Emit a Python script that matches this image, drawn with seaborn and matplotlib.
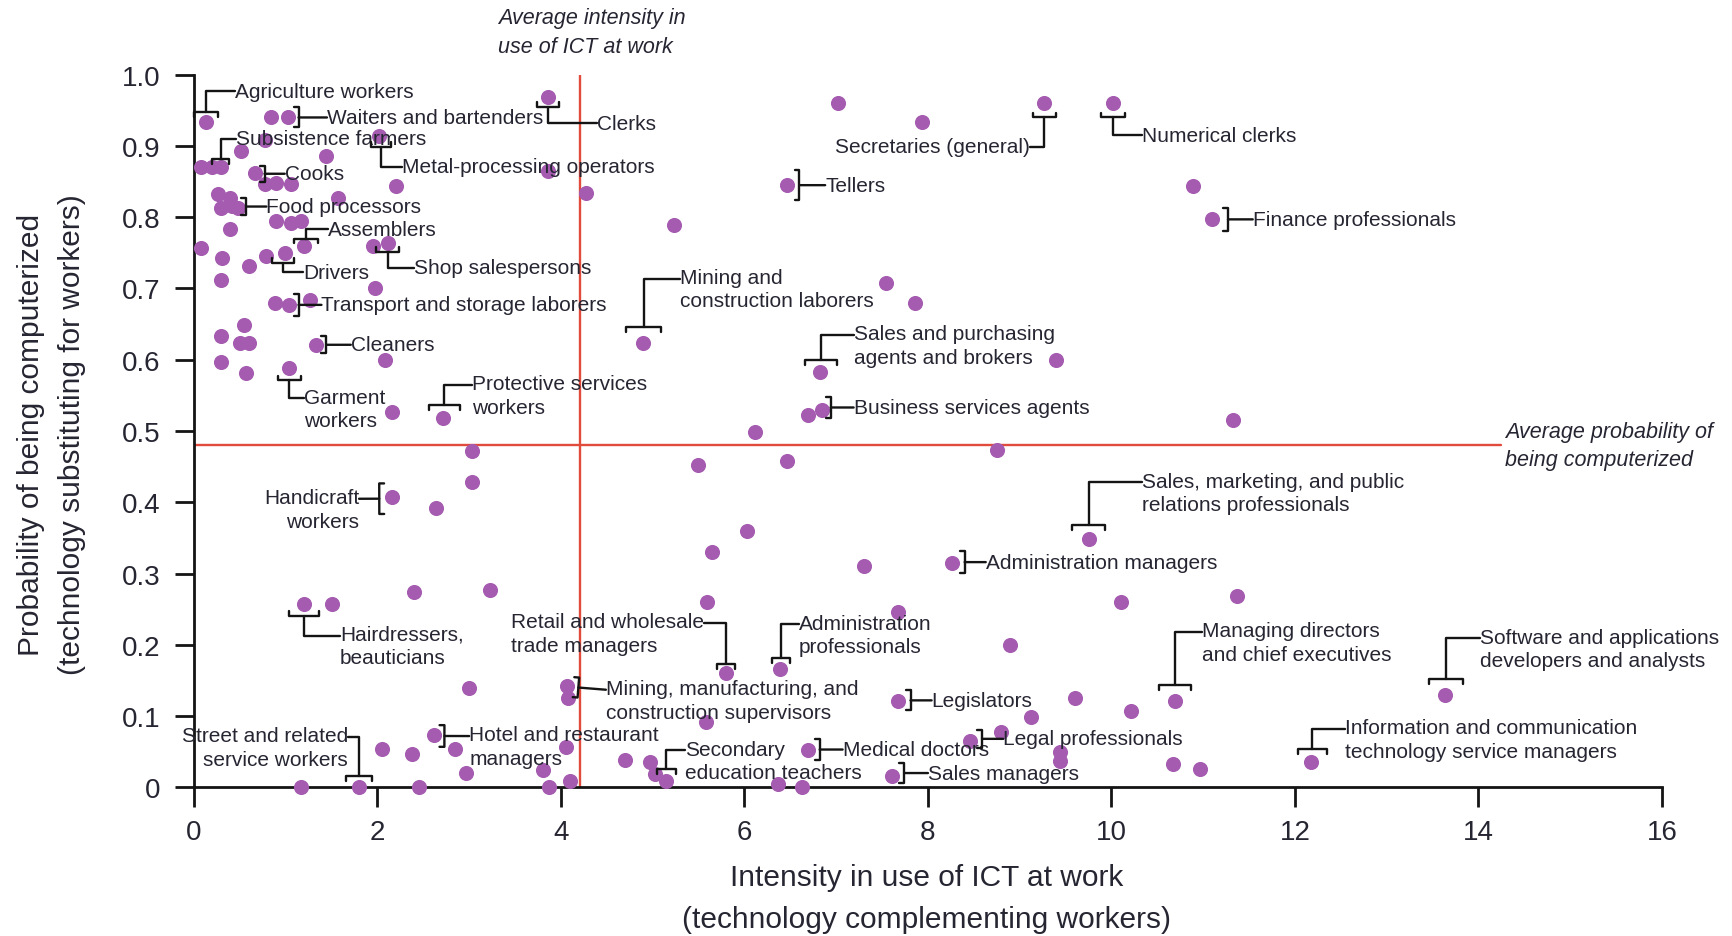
import matplotlib
matplotlib.use("Agg")
import matplotlib.pyplot as plt
import pandas as pd
import seaborn as sns

# ---------------- data ----------------
ict_intensity = [
    # high probability, low ICT
    0.13, 0.84, 1.02, 3.86, 2.02, 0.77, 0.51, 1.44, 0.08, 0.20, 0.30, 0.67, 0.77, 0.90,
    1.06, 2.20, 3.86, 4.27, 0.26, 0.39, 0.30, 0.42, 0.48, 1.57, 0.90, 1.06, 1.17, 0.39,
    1.20, 0.08, 1.95, 2.11, 0.31, 0.79, 0.99, 0.60, 0.29, 1.97, 0.88, 1.04, 1.26, 0.55,
    0.29, 0.50, 0.60, 1.33, 2.08, 0.29, 1.04, 0.57, 2.16, 2.71,
    # high probability, high ICT
    7.02, 7.93, 9.27, 10.02, 6.46, 10.89, 11.10, 5.23, 7.54, 7.86, 4.89, 6.82, 9.40,
    6.69, 6.84, 11.33, 6.11,
    # low probability, low ICT
    3.03, 3.03, 2.16, 2.64, 2.40, 3.23, 1.20, 1.50, 3.00, 4.07, 4.08, 2.62, 2.85, 2.05,
    2.38, 2.97, 4.06, 3.81, 4.10, 3.87, 1.17, 1.80, 2.45,
    # low probability, high ICT
    8.75, 5.49, 6.46, 6.03, 5.65, 9.75, 8.26, 7.30, 11.37, 10.10, 5.59, 7.67, 8.89, 5.80,
    6.39, 7.67, 9.60, 10.69, 13.64, 10.21, 9.12, 5.58, 8.46, 8.80, 9.44, 9.44, 6.69, 4.70,
    4.97, 5.02, 5.14, 10.67, 10.97, 12.18, 7.61, 6.37, 6.63,
]
prob_computerized = [
    0.933, 0.940, 0.940, 0.969, 0.914, 0.908, 0.893, 0.886, 0.870, 0.870, 0.870, 0.862, 0.846, 0.848,
    0.846, 0.844, 0.865, 0.834, 0.832, 0.827, 0.813, 0.816, 0.813, 0.827, 0.795, 0.792, 0.795, 0.783,
    0.759, 0.757, 0.759, 0.764, 0.743, 0.745, 0.750, 0.731, 0.712, 0.700, 0.680, 0.677, 0.684, 0.649,
    0.634, 0.623, 0.623, 0.620, 0.600, 0.597, 0.588, 0.581, 0.527, 0.518,
    0.960, 0.933, 0.960, 0.960, 0.845, 0.844, 0.797, 0.789, 0.707, 0.680, 0.624, 0.583, 0.600,
    0.523, 0.529, 0.515, 0.499,
    0.472, 0.428, 0.407, 0.392, 0.274, 0.277, 0.257, 0.257, 0.140, 0.142, 0.126, 0.073, 0.054, 0.054,
    0.047, 0.020, 0.057, 0.024, 0.009, 0.000, 0.000, 0.000, 0.000,
    0.473, 0.452, 0.458, 0.360, 0.330, 0.349, 0.315, 0.310, 0.269, 0.260, 0.260, 0.246, 0.200, 0.160,
    0.166, 0.121, 0.125, 0.121, 0.129, 0.107, 0.098, 0.091, 0.065, 0.077, 0.049, 0.037, 0.053, 0.038,
    0.035, 0.018, 0.009, 0.032, 0.026, 0.035, 0.016, 0.004, 0.000,
]
avg_ict = 4.21
avg_prob = 0.48

x_ticks = [0, 2, 4, 6, 8, 10, 12, 14, 16]
y_ticks = [0, 0.1, 0.2, 0.3, 0.4, 0.5, 0.6, 0.7, 0.8, 0.9, 1.0]
y_tick_labels = ["0", "0.1", "0.2", "0.3", "0.4", "0.5", "0.6", "0.7", "0.8", "0.9", "1.0"]

x_title = "Intensity in use of ICT at work\n(technology complementing workers)"
y_title = "Probability of being computerized\n(technology substituting for workers)"
avg_ict_note = "Average intensity in\nuse of ICT at work"
avg_prob_note = "Average probability of\nbeing computerized"

# ---------------- annotation layout ----------------
# (label, text_x, text_y, ha, rel_x, rel_y, bracket_x, bracket_y, bracket_half_width_pt, style)
annotations = [
    ("Agriculture workers", 0.45, 0.977, "left", 0, 0.5, 0.13, 0.947, 8.4, "elbow"),
    ("Waiters and bartenders", 1.45, 0.940, "left", 0, 0.5, 1.14, 0.940, 7.2, "straight"),
    ("Subsistence farmers", 0.46, 0.910, "left", 0, 0.5, 0.29, 0.882, 6.0, "elbow"),
    ("Cooks", 0.99, 0.861, "left", 0, 0.5, 0.77, 0.861, 5.8, "straight"),
    ("Metal-processing operators", 2.27, 0.871, "left", 0, 0.5, 2.04, 0.899, 7.2, "elbow"),
    ("Food processors", 0.79, 0.815, "left", 0, 0.5, 0.57, 0.815, 6.0, "straight"),
    ("Assemblers", 1.46, 0.783, "left", 0, 0.5, 1.22, 0.770, 8.4, "elbow"),
    ("Shop salespersons", 2.40, 0.729, "left", 0, 0.5, 2.11, 0.751, 8.4, "elbow"),
    ("Drivers", 1.19, 0.723, "left", 0, 0.5, 0.97, 0.736, 8.0, "elbow"),
    ("Transport and storage laborers", 1.39, 0.677, "left", 0, 0.5, 1.14, 0.677, 7.8, "straight"),
    ("Cleaners", 1.71, 0.621, "left", 0, 0.5, 1.44, 0.621, 6.2, "straight"),
    ("Garment\nworkers", 1.20, 0.531, "left", 0, 0.75, 1.04, 0.571, 8.4, "elbow"),
    ("Protective services\nworkers", 3.03, 0.550, "left", 0, 0.75, 2.73, 0.536, 11.0, "elbow"),
    ("Clerks", 4.39, 0.932, "left", 0, 0.5, 3.86, 0.955, 8.2, "elbow"),
    ("Secretaries (general)", 9.11, 0.899, "right", 1, 0.5, 9.27, 0.940, 8.5, "elbow"),
    ("Numerical clerks", 10.33, 0.915, "left", 0, 0.5, 10.02, 0.940, 8.5, "elbow"),
    ("Tellers", 6.88, 0.845, "left", 0, 0.5, 6.60, 0.845, 11.0, "straight"),
    ("Finance professionals", 11.54, 0.797, "left", 0, 0.5, 11.27, 0.797, 8.4, "straight"),
    ("Mining and\nconstruction laborers", 5.30, 0.699, "left", 0, 0.75, 4.90, 0.646, 12.3, "elbow"),
    ("Sales and purchasing\nagents and brokers", 7.19, 0.620, "left", 0, 0.75, 6.83, 0.600, 11.5, "elbow"),
    ("Business services agents", 7.19, 0.533, "left", 0, 0.5, 6.94, 0.533, 7.8, "straight"),
    ("Handicraft\nworkers", 1.80, 0.390, "right", 1, 0.75, 2.02, 0.405, 11.0, "straight"),
    ("Hairdressers,\nbeauticians", 1.59, 0.198, "left", 0, 0.75, 1.20, 0.241, 11.0, "elbow"),
    ("Street and related\nservice workers", 1.68, 0.056, "right", 1, 0.75, 1.80, 0.016, 9.4, "elbow"),
    ("Hotel and restaurant\nmanagers", 3.00, 0.057, "left", 0, 0.75, 2.73, 0.072, 7.8, "straight"),
    ("Retail and wholesale\ntrade managers", 3.46, 0.216, "left", 1, 0.75, 5.80, 0.173, 6.4, "elbow"),
    ("Administration\nprofessionals", 6.59, 0.214, "left", 0, 0.75, 6.40, 0.181, 6.3, "elbow"),
    ("Mining, manufacturing, and\nconstruction supervisors", 4.49, 0.122, "left", 0, 0.75, 4.19, 0.140, 7.2, "straight"),
    ("Secondary\neducation teachers", 5.35, 0.037, "left", 0, 0.75, 5.15, 0.025, 6.8, "elbow"),
    ("Medical doctors", 7.07, 0.053, "left", 0, 0.5, 6.82, 0.053, 7.8, "straight"),
    ("Sales managers", 8.00, 0.020, "left", 0, 0.5, 7.74, 0.020, 7.2, "straight"),
    ("Legislators", 8.04, 0.122, "left", 0, 0.5, 7.81, 0.122, 7.2, "straight"),
    ("Legal professionals", 8.82, 0.068, "left", 0, 0.5, 8.59, 0.068, 6.6, "straight"),
    ("Administration managers", 8.63, 0.316, "left", 0, 0.5, 8.40, 0.316, 7.8, "straight"),
    ("Sales, marketing, and public\nrelations professionals", 10.33, 0.413, "left", 0, 0.75, 9.75, 0.368, 12.0, "elbow"),
    ("Managing directors\nand chief executives", 10.99, 0.203, "left", 0, 0.75, 10.69, 0.144, 11.5, "elbow"),
    ("Software and applications\ndevelopers and analysts", 14.02, 0.194, "left", 0, 0.75, 13.65, 0.152, 12.3, "elbow"),
    ("Information and communication\ntechnology service managers", 12.55, 0.067, "left", 0, 0.75, 12.19, 0.054, 10.5, "elbow"),
]

# ---------------- style ----------------
PURPLE = "#a45bb0"
RED = "#e04b3c"
TEXT = "#262633"
INK = "#141414"

sns.set_theme(style="white")
plt.rcParams["font.family"] = ["Liberation Sans", "DejaVu Sans"]

fig = plt.figure(figsize=(17.33, 9.37), dpi=100)
ax = fig.add_axes([0.1119, 0.1587, 0.959 - 0.1119, 0.9192 - 0.1587])

df = pd.DataFrame({"ict": ict_intensity, "prob": prob_computerized})
sns.scatterplot(data=df, x="ict", y="prob", ax=ax, color=PURPLE, s=118,
                linewidth=0, clip_on=False, zorder=4, legend=False)

ax.set_xlim(0, 16)
ax.set_ylim(0, 1.0)
ax.set_xlabel("")
ax.set_ylabel("")

# average lines
ax.axvline(avg_ict, ymin=0, ymax=1, color=RED, lw=1.7, zorder=2)
ax.axhline(avg_prob, xmin=0, xmax=14.25 / 16, color=RED, lw=1.7, zorder=2)

ax.text(3.31, 1.060, avg_ict_note, ha="left", va="center", fontsize=15.5,
        style="italic", color=TEXT, linespacing=1.45, clip_on=False)
ax.text(14.29, avg_prob, avg_prob_note, ha="left", va="center", fontsize=15.5,
        style="italic", color=TEXT, linespacing=1.45, clip_on=False)

# spines & ticks
for side in ["top", "right"]:
    ax.spines[side].set_visible(False)
for side in ["left", "bottom"]:
    ax.spines[side].set_linewidth(2.0)
    ax.spines[side].set_color(INK)

ax.set_xticks(x_ticks)
ax.set_xticklabels([str(t) for t in x_ticks])
ax.set_yticks(y_ticks)
ax.set_yticklabels(y_tick_labels)
ax.tick_params(axis="x", direction="out", length=14.5, width=2.0, color=INK,
               pad=8, labelsize=20, labelcolor=TEXT, bottom=True)
ax.tick_params(axis="y", direction="out", length=14, width=2.0, color=INK,
               pad=10, labelsize=20, labelcolor=TEXT, left=True)
ax.grid(False)

# annotations with bracket connectors
for label, tx, ty, ha, rx, ry, bx, by, hw, style in annotations:
    cs = "arc3,rad=0" if style == "straight" else "angle,angleA=0,angleB=90,rad=0"
    ax.annotate(label, xy=(bx, by), xytext=(tx, ty), ha=ha, va="center",
                fontsize=15, color=TEXT, linespacing=1.3, annotation_clip=False,
                zorder=5,
                arrowprops=dict(arrowstyle=f"-[,widthB={hw},lengthB=3.5",
                                connectionstyle=cs, color=INK, lw=1.7,
                                shrinkA=0, shrinkB=0, patchA=None,
                                relpos=(rx, ry), mutation_scale=1))

# axis titles
fig.text(0.5345, 0.0406, x_title, ha="center", va="center", fontsize=21.5,
         color=TEXT, linespacing=1.6)
fig.text(0.0297, 0.536, y_title, ha="center", va="center", fontsize=21.5,
         color=TEXT, linespacing=1.6, rotation=90)

fig.savefig("out.png", dpi=100)
